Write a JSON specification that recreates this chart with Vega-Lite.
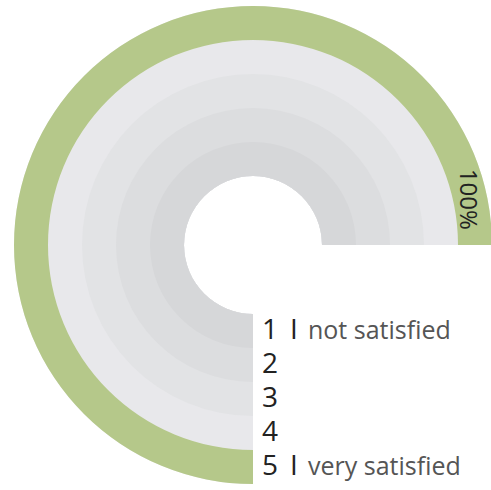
{
  "$schema": "https://vega.github.io/schema/vega-lite/v6.json",
  "width": 476,
  "height": 478,
  "autosize": {"type": "none"},
  "padding": {"left": 15, "top": 6, "right": 0, "bottom": 6},
  "background": "white",
  "config": {"view": {"stroke": null}, "font": "Open Sans"},
  "data": {
    "values": [
      {"level": 1, "label": "1", "desc": "not satisfied", "pct": 0},
      {"level": 2, "label": "2", "desc": "", "pct": 0},
      {"level": 3, "label": "3", "desc": "", "pct": 0},
      {"level": 4, "label": "4", "desc": "", "pct": 0},
      {"level": 5, "label": "5", "desc": "very satisfied", "pct": 1}
    ]
  },
  "layer": [
    {
      "mark": {"type": "arc"},
      "encoding": {
        "theta": {"datum": 0, "type": "quantitative", "scale": {"domain": [0, 1], "range": [3.14159265, 7.85398163]}},
        "theta2": {"datum": 1},
        "radius": {"field": "level", "type": "quantitative", "scale": {"type": "linear", "domain": [0, 5], "range": [69, 239], "zero": false}},
        "radius2": {"datum": 0},
        "color": {"field": "level", "type": "ordinal", "scale": {"range": ["#d6d7d9", "#dcdddf", "#e2e3e5", "#e8e8eb", "#ebebed"]}, "legend": null},
        "order": {"field": "level", "sort": "descending"}
      }
    },
    {
      "transform": [{"filter": "datum.pct > 0"}],
      "mark": {"type": "arc", "radius2Offset": -34, "color": "#b5c88a"},
      "encoding": {
        "theta": {"field": "pct", "type": "quantitative"},
        "theta2": {"datum": 0},
        "radius": {"field": "level", "type": "quantitative"},
        "radius2": {"field": "level"}
      }
    },
    {
      "mark": {"type": "text", "align": "left", "baseline": "middle", "dx": 9, "radiusOffset": -17, "fontSize": 28, "color": "#222222"},
      "encoding": {
        "theta": {"datum": 0, "type": "quantitative"},
        "radius": {"field": "level", "type": "quantitative"},
        "text": {"field": "label"}
      }
    },
    {
      "transform": [{"filter": "datum.desc != ''"}],
      "mark": {"type": "text", "align": "left", "baseline": "middle", "dx": 37, "radiusOffset": -17, "fontSize": 28, "color": "#222222", "text": "I"},
      "encoding": {
        "theta": {"datum": 0, "type": "quantitative"},
        "radius": {"field": "level", "type": "quantitative"}
      }
    },
    {
      "transform": [{"filter": "datum.desc != ''"}],
      "mark": {"type": "text", "align": "left", "baseline": "middle", "dx": 55, "radiusOffset": -17, "fontSize": 25, "color": "#555555"},
      "encoding": {
        "theta": {"datum": 0, "type": "quantitative"},
        "radius": {"field": "level", "type": "quantitative"},
        "text": {"field": "desc"}
      }
    },
    {
      "transform": [{"filter": "datum.pct > 0"}],
      "mark": {"type": "text", "align": "center", "baseline": "middle", "angle": 90, "thetaOffset": -0.21, "radiusOffset": -20, "fontSize": 24, "color": "#222222"},
      "encoding": {
        "theta": {"field": "pct", "type": "quantitative"},
        "radius": {"field": "level", "type": "quantitative"},
        "text": {"field": "pct", "type": "quantitative", "format": ".0%"}
      }
    }
  ]
}
